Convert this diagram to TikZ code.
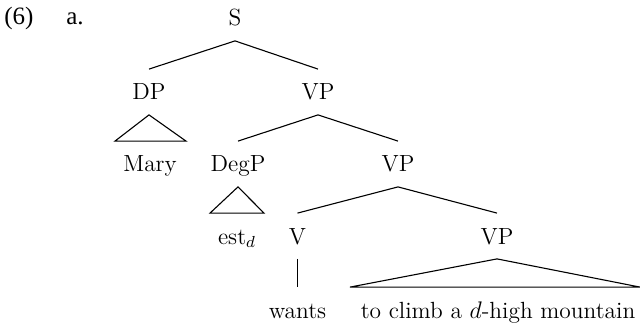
\documentclass[tikz,border=0pt]{standalone}
\usepackage{fontspec}
\newfontfamily\timesfont{Liberation Serif}
\usetikzlibrary{calc}
\tikzset{
  cat/.style={anchor=base, inner xsep=0pt, inner ysep=7.25pt, text height=8pt, text depth=0pt,
    font=\fontsize{11.7}{14}\selectfont},
  lbl/.style={anchor=base, inner sep=0pt, font=\timesfont\fontsize{12.5}{14}\selectfont},
  branch/.style={line width=0.55pt, line join=miter}
}
\begin{document}
\begin{tikzpicture}[x=0.5pt, y=-0.5pt]
\useasboundingbox (0,0) rectangle (640,325);
\node[lbl] (num) at (19,25) {(6)};
\node[lbl] (sub) at (75,25) {a.};
\node[cat] (S) at (235,26) {S};
\node[cat] (DP) at (149,100) {DP};
\node[cat] (VPa) at (318,100) {VP};
\node[cat] (Mary) at (150,172) {Mary};
\node[cat] (DegP) at (238,172) {DegP};
\node[cat] (VPb) at (398,172) {VP};
\node[cat] (est) at (237,244) {est$_d$};
\node[cat] (V) at (297.5,244) {V};
\node[cat] (VPc) at (497,244) {VP};
\node[cat] (wants) at (297.5,318) {wants};
\node[cat] (climb) at (498,318) {to climb a $d$-high mountain};
\draw[branch] (S.south) -- (DP.north);
\draw[branch] (S.south) -- (VPa.north);
\draw[branch] (VPa.south) -- (DegP.north);
\draw[branch] (VPa.south) -- (VPb.north);
\draw[branch] (VPb.south) -- (V.north);
\draw[branch] (VPb.south) -- (VPc.north);
\draw[branch] (V.south) -- (wants.north);
\draw[branch] (DP.south) -- ($(Mary.north)+(-35,0)$) -- ($(Mary.north)+(36,0)$) -- cycle;
\draw[branch] (DegP.south) -- ($(est.north)+(-27,0)$) -- ($(est.north)+(27,0)$) -- cycle;
\draw[branch] (VPc.south) -- ($(climb.north)+(-148,0)$) -- ($(climb.north)+(142,0)$) -- cycle;
\end{tikzpicture}
\end{document}
